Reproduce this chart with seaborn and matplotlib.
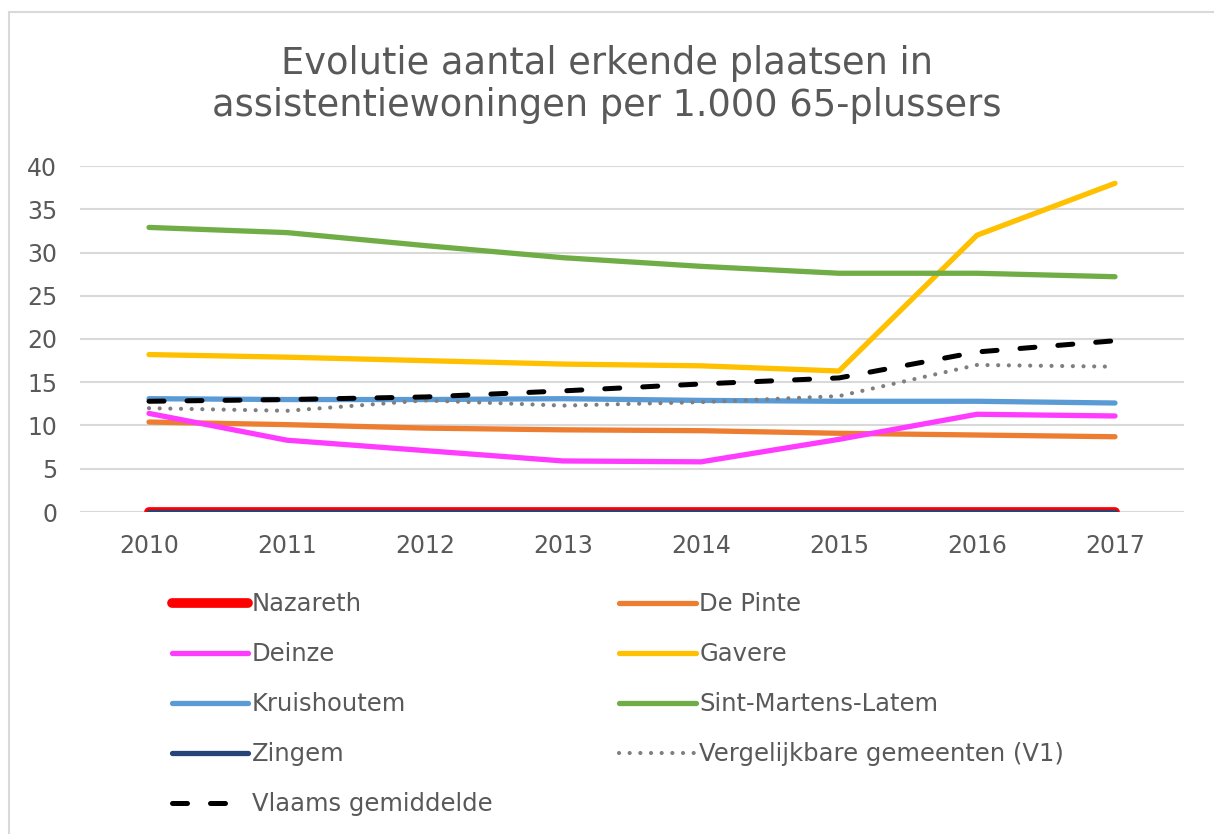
import matplotlib
matplotlib.use("Agg")
import matplotlib.pyplot as plt
import seaborn as sns
import pandas as pd
from matplotlib.patches import Rectangle

sns.set_theme(style="white")
plt.rcParams['font.family'] = ['DejaVu Sans']

years = [2010, 2011, 2012, 2013, 2014, 2015, 2016, 2017]
nazareth = [0, 0, 0, 0, 0, 0, 0, 0]
de_pinte = [10.4, 10.1, 9.7, 9.5, 9.4, 9.1, 8.9, 8.7]
deinze = [11.4, 8.3, 7.1, 5.9, 5.8, 8.4, 11.3, 11.1]
gavere = [18.2, 17.9, 17.5, 17.1, 16.9, 16.3, 32.0, 38.0]
kruishoutem = [13.1, 13.0, 13.0, 13.1, 12.9, 12.8, 12.8, 12.6]
sint_martens_latem = [32.9, 32.3, 30.8, 29.4, 28.4, 27.6, 27.6, 27.2]
zingem = [0, 0, 0, 0, 0, 0, 0, 0]
vergelijkbare = [12.0, 11.7, 12.9, 12.3, 12.7, 13.4, 17.0, 16.8]
vlaams = [12.8, 13.0, 13.3, 14.0, 14.8, 15.5, 18.5, 19.8]

series = [
    ("Nazareth", nazareth, "#FF0000", 7.0, None),
    ("De Pinte", de_pinte, "#ED7D31", 3.8, None),
    ("Deinze", deinze, "#FF3BFF", 3.8, None),
    ("Gavere", gavere, "#FFC000", 3.8, None),
    ("Kruishoutem", kruishoutem, "#5B9BD5", 3.8, None),
    ("Sint-Martens-Latem", sint_martens_latem, "#70AD47", 3.8, None),
    ("Zingem", zingem, "#264478", 3.8, None),
    ("Vergelijkbare gemeenten (V1)", vergelijkbare, "#7F7F7F", 3.0, "dot"),
    ("Vlaams gemiddelde", vlaams, "#000000", 3.6, "dash"),
]

fig = plt.figure(figsize=(12.14, 8.34), dpi=100)
ax = fig.add_axes([80/1214, 1-512/834, (1184-80)/1214, (512-166)/834])

text_color = "#595959"
handles = {}
for name, vals, color, lw, style in series:
    df = pd.DataFrame({"year": years, "value": vals})
    sns.lineplot(data=df, x="year", y="value", ax=ax, color=color, linewidth=lw,
                 label=name, legend=False)
    line = ax.get_lines()[-1]
    line.set_solid_capstyle("round")
    if style == "dot":
        line.set_dashes([0.01, 2.55])
        line.set_dash_capstyle("round")
    elif style == "dash":
        line.set_dashes([3.0, 4.6])
        line.set_dash_capstyle("round")
    handles[name] = line

ax.set_xlim(2009.5, 2017.5)
ax.set_ylim(0, 40)
ax.set_yticks(range(0, 41, 5))
ax.set_xticks(years)
ax.set_xticklabels([str(y) for y in years])
ax.set_xlabel("")
ax.set_ylabel("")
ax.grid(axis="y", color="#D9D9D9", linewidth=1.5)
ax.grid(axis="x", visible=False)
ax.set_axisbelow(True)
for s in ax.spines.values():
    s.set_visible(False)
ax.tick_params(axis="both", labelsize=17, colors=text_color, length=0)
ax.tick_params(axis="y", pad=16.5)
ax.tick_params(axis="x", pad=16)

fig.text(0.5, 1-84.5/834, "Evolutie aantal erkende plaatsen in\nassistentiewoningen per 1.000 65-plussers",
         ha="center", va="center", fontsize=26.5, color=text_color, linespacing=1.17)

order = ["Nazareth", "Deinze", "Kruishoutem", "Zingem", "Vlaams gemiddelde",
         "De Pinte", "Gavere", "Sint-Martens-Latem", "Vergelijkbare gemeenten (V1)"]
leg = fig.legend([handles[n] for n in order], order, ncol=2,
                 loc="upper left", bbox_to_anchor=(150/1214, 1-570.5/834),
                 frameon=False, fontsize=17.5, handlelength=3.15, handletextpad=0.15,
                 labelspacing=1.07, columnspacing=5.2, labelcolor=text_color)

border = Rectangle((8.5/1214, -1), 2, 1 + (1-11.5/834), transform=fig.transFigure,
                   fill=False, edgecolor="#D9D9D9", linewidth=1.5)
fig.patches.append(border)

fig.savefig("out.png", dpi=100)
